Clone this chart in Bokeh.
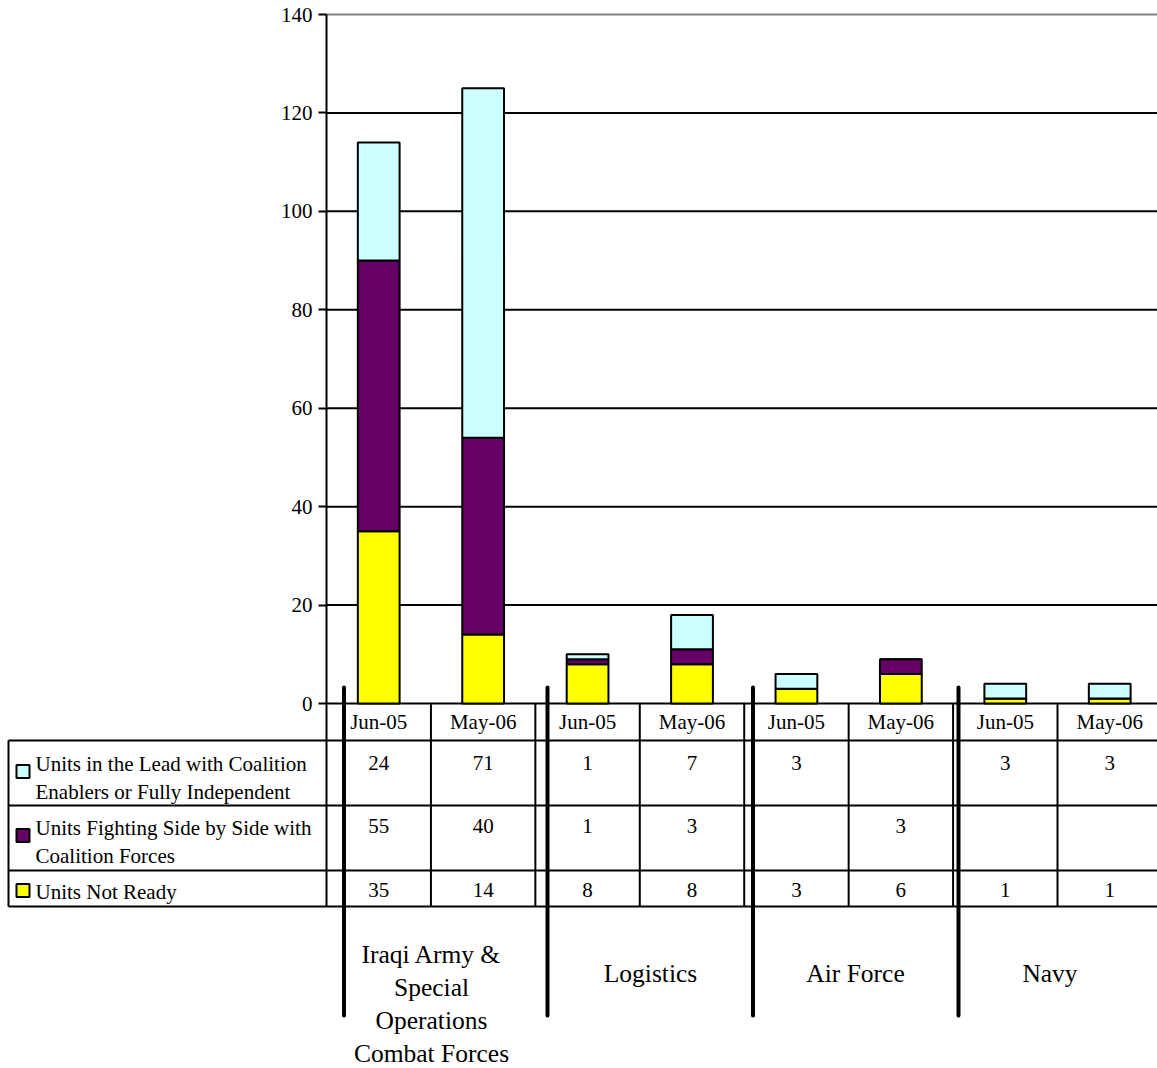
from bokeh.plotting import figure
from bokeh.models import Range1d, LinearAxis, FixedTicker, ColumnDataSource
from bokeh.core.properties import value
from bokeh.embed import file_html
from bokeh.resources import INLINE

# ---------------- data ----------------
dates = ["Jun-05", "May-06", "Jun-05", "May-06", "Jun-05", "May-06", "Jun-05", "May-06"]
groups = ["Iraqi Army &\nSpecial\nOperations\nCombat Forces", "Logistics", "Air Force", "Navy"]
series_names = [
    "Units in the Lead with Coalition\nEnablers or Fully Independent",
    "Units Fighting Side by Side with\nCoalition Forces",
    "Units Not Ready",
]
lead = [24, 71, 1, 7, 3, None, 3, 3]
side = [55, 40, 1, 3, None, 3, None, None]
not_ready = [35, 14, 8, 8, 3, 6, 1, 1]
y_ticks = [0, 20, 40, 60, 80, 100, 120, 140]
colors = ["#CCFFFF", "#660066", "#FFFF00"]

# ---------------- layout helpers (pixels -> data) ----------------
W, H = 1157, 1068
X0_PX, CAT_PX = 326.0, 104.43
Y0_PX, UNIT_PX = 703.0, 689.0 / 140.0


def fx(px):
    return (px - X0_PX) / CAT_PX


def fy(py):
    return (Y0_PX - py) / UNIT_PX


FONT = value("Liberation Serif")
FS = value("21px")

p = figure(width=W, height=H, x_range=Range1d(fx(0), fx(W)), y_range=Range1d(fy(H), fy(0)),
           output_backend="svg", toolbar_location=None, min_border=0,
           x_axis_location=None, y_axis_location=None)
p.outline_line_color = None
p.xgrid.grid_line_color = None
p.ygrid.grid_line_color = None
p.background_fill_color = "white"

# y axis fixed at x = 0
yax = LinearAxis(ticker=FixedTicker(ticks=y_ticks), fixed_location=0, bounds=(0, 140))
yax.axis_line_color = "black"
yax.axis_line_width = 2
yax.major_tick_line_width = 2
yax.major_tick_out = 8
yax.major_tick_in = 0
yax.minor_tick_line_color = None
yax.major_label_text_font = "Liberation Serif"
yax.major_label_text_font_size = "21px"
yax.major_label_text_color = "black"
yax.major_label_standoff = 6
p.add_layout(yax, "left")

# gridlines
grid_col = ["black" if t < 140 else "#808080" for t in y_ticks]
p.segment(x0=0, x1=fx(W), y0=y_ticks, y1=y_ticks, line_color=grid_col, line_width=2)

# stacked bars
num = lambda v: 0 if v is None else v
xs = [i + 0.5 for i in range(len(dates))]
src = ColumnDataSource(dict(x=xs, lead=[num(v) for v in lead], side=[num(v) for v in side],
                            not_ready=not_ready))
p.vbar_stack(["not_ready", "side", "lead"], x="x", width=0.4, source=src,
             fill_color=[colors[2], colors[1], colors[0]], line_color="black", line_width=2)

# ---------------- data table ----------------
row_lines = [740, 805, 870, 906]
p.segment(x0=fx(8), x1=fx(W), y0=[fy(r) for r in row_lines], y1=[fy(r) for r in row_lines],
          line_color="black", line_width=2)
p.segment(x0=fx(8), x1=fx(8), y0=fy(740), y1=fy(906), line_color="black", line_width=2)
vx = list(range(0, 9))
p.segment(x0=vx, x1=vx, y0=fy(703), y1=fy(906), line_color="black", line_width=2)

sep_x = [fx(v) for v in (343.5, 547, 752.5, 958)]
p.segment(x0=sep_x, x1=sep_x, y0=fy(687), y1=fy(1015), line_color="black", line_width=4,
          line_cap="round")

# header (dates)
p.text(x=xs, y=[fy(721)] * len(xs), text=dates, text_font=FONT, text_font_size=FS,
       text_align="center", text_baseline="middle", text_color="black")

# values
fmt = lambda v: "" if v is None else str(v)
for vals, yy in ((lead, 762), (side, 825), (not_ready, 889)):
    p.text(x=xs, y=[fy(yy)] * len(xs), text=[fmt(v) for v in vals], text_font=FONT,
           text_font_size=FS, text_align="center", text_baseline="middle", text_color="black")


def split_lines(labels, xs_px, first_y_px, step_px):
    lx, ly, lt = [], [], []
    for lab, xp, yp in zip(labels, xs_px, first_y_px):
        for i, line in enumerate(lab.split("\n")):
            lx.append(fx(xp))
            ly.append(fy(yp + i * step_px))
            lt.append(line)
    return lx, ly, lt


# legend swatches and names
p.rect(x=[fx(22.5)] * 3, y=[fy(771), fy(835), fy(890)], width=13, height=13,
       width_units="screen", height_units="screen", fill_color=colors, line_color="black",
       line_width=2)
lx, ly, lt = split_lines(series_names, [35] * 3, [763, 827.5, 891], 28)
p.text(x=lx, y=ly, text=lt, text_font=FONT, text_font_size=FS, text_align="left",
       text_baseline="middle", text_color="black")

# group labels
gx, gy, gt = split_lines(groups, [431, 650, 855, 1049.5], [953.5, 973, 973, 973], 33)
p.text(x=gx, y=gy, text=gt, text_font=FONT, text_font_size=value("25.5px"),
       text_align="center", text_baseline="middle", text_color="black")

open("out.html", "w").write(file_html(p, INLINE))
